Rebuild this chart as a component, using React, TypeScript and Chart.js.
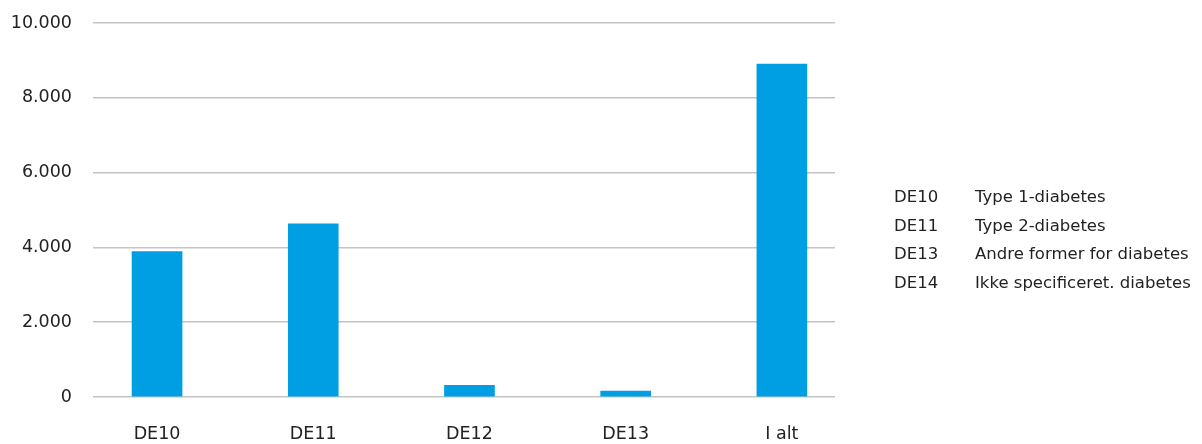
import React, { useEffect, useRef } from "react";
import { Chart, registerables } from "chart.js";

Chart.register(...registerables);

const categories = ["DE10", "DE11", "DE12", "DE13", "I alt"];
const values = [3890, 4630, 310, 160, 8900];
const yMin = 0;
const yMax = 10000;
const yStep = 2000;
const legendCodes = ["DE10", "DE11", "DE13", "DE14"];
const legendTexts = [
  "Type 1-diabetes",
  "Type 2-diabetes",
  "Andre former for diabetes",
  "Ikke specificeret. diabetes",
];

const FONT = "'DejaVu Sans', sans-serif";
const TEXT_COLOR = "#222222";
const BAR_COLOR = "#009FE3";
const GRID_COLOR = "#c4c4c4";

const fmt = (v: number) =>
  String(Math.round(v)).replace(/\B(?=(\d{3})+(?!\d))/g, ".");

export default function App() {
  const canvasRef = useRef<HTMLCanvasElement | null>(null);

  useEffect(() => {
    const canvas = canvasRef.current;
    if (!canvas) return;
    const chart = new Chart(canvas, {
      type: "bar",
      data: {
        datasets: [
          {
            data: values.map((v, i) => ({ x: i, y: v })),
            backgroundColor: BAR_COLOR,
            borderWidth: 0,
            barThickness: 50,
          },
        ],
      },
      options: {
        animation: false,
        responsive: false,
        maintainAspectRatio: false,
        layout: { padding: { left: 0, right: 367, top: 23, bottom: 0 } },
        plugins: {
          legend: { display: false },
          tooltip: { enabled: false },
        },
        scales: {
          x: {
            type: "linear",
            min: -0.41,
            max: 4.34,
            offset: false,
            grid: { display: false, drawTicks: false },
            border: { display: false },
            afterBuildTicks: (scale: any) => {
              scale.ticks = categories.map((_, i) => ({ value: i }));
            },
            afterFit: (scale: any) => {
              scale.height = 47;
              scale.paddingLeft = 0;
              scale.paddingRight = 0;
            },
            ticks: {
              autoSkip: false,
              maxRotation: 0,
              minRotation: 0,
              padding: 27,
              color: TEXT_COLOR,
              font: { family: FONT, size: 17.5 },
              callback: (v: any) => categories[Number(v)] ?? "",
            },
          },
          y: {
            type: "linear",
            min: yMin,
            max: yMax,
            grid: {
              color: GRID_COLOR,
              lineWidth: 1.6,
              drawTicks: false,
            },
            border: { display: false },
            afterFit: (scale: any) => {
              scale.width = 93;
              scale.paddingTop = 0;
              scale.paddingBottom = 0;
            },
            ticks: {
              stepSize: yStep,
              padding: 21,
              color: TEXT_COLOR,
              font: { family: FONT, size: 17.5 },
              callback: (v: any) => fmt(Number(v)),
            },
          },
        },
      },
    });
    return () => chart.destroy();
  }, []);

  const rowCenters = legendCodes.map((_, i) => 197 + i * 28.5);

  return (
    <div
      style={{
        position: "fixed",
        left: 0,
        top: 0,
        width: 1202,
        height: 444,
        background: "#ffffff",
        overflow: "hidden",
      }}
    >
      <canvas
        ref={canvasRef}
        width={1202}
        height={444}
        style={{ position: "absolute", left: 0, top: 0, width: 1202, height: 444 }}
      />
      {legendCodes.map((code, i) => (
        <React.Fragment key={code}>
          <div
            style={{
              position: "absolute",
              left: 894,
              top: rowCenters[i] - 10,
              lineHeight: "20px",
              fontFamily: FONT,
              fontSize: 16.5,
              color: TEXT_COLOR,
              whiteSpace: "nowrap",
            }}
          >
            {code}
          </div>
          <div
            style={{
              position: "absolute",
              left: 975,
              top: rowCenters[i] - 10,
              lineHeight: "20px",
              fontFamily: FONT,
              fontSize: 16.5,
              color: TEXT_COLOR,
              whiteSpace: "nowrap",
            }}
          >
            {legendTexts[i]}
          </div>
        </React.Fragment>
      ))}
    </div>
  );
}
